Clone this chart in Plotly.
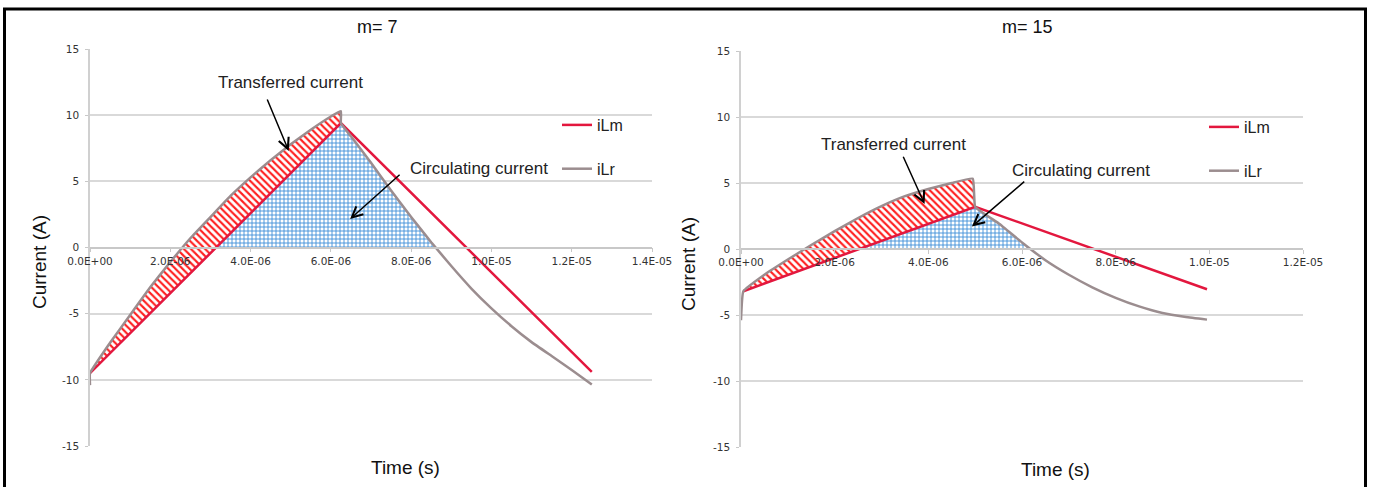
import numpy as np
import plotly.graph_objects as go

W, H = 1373, 487

# ---------------- data (times in microseconds, currents in A) ----------------
# m = 7
t_ilm_7 = [0.0, 6.25, 12.5]
ilm_7 = [-9.5, 9.4, -9.4]
t_ilr_7 = [0.0, 0.0, 0.5, 1.0, 1.5, 2.0, 2.5, 3.0, 3.5, 4.0, 4.5, 5.0, 5.5, 6.0, 6.25,
           6.25, 6.5, 7.0, 7.5, 8.0, 8.5, 9.0, 9.5, 10.0, 10.5, 11.0, 11.5, 12.0, 12.5]
ilr_7 = [-10.4, -9.5, -7.2, -5.1, -3.0, -1.1, 0.7, 2.3, 3.9, 5.3, 6.6, 7.8, 8.9, 9.9, 10.3,
         9.4, 8.4, 6.4, 4.3, 2.3, 0.4, -1.4, -3.1, -4.6, -5.95, -7.15, -8.2, -9.25, -10.35]

# m = 15
t_ilm_15 = [0.05, 5.0, 9.95]
ilm_15 = [-3.2, 3.2, -3.05]
t_ilr_15 = [0.0, 0.05, 0.5, 1.0, 1.5, 2.0, 2.5, 3.0, 3.5, 4.0, 4.5, 4.95,
            5.0, 5.5, 6.0, 6.5, 7.0, 7.5, 8.0, 8.5, 9.0, 9.5, 9.95]
ilr_15 = [-5.4, -3.2, -1.95, -0.8, 0.3, 1.35, 2.35, 3.25, 4.0, 4.55, 5.0, 5.33,
          3.2, 1.95, 0.5, -0.85, -1.95, -2.9, -3.7, -4.35, -4.85, -5.15, -5.35]

# axes
yticks = [15, 10, 5, 0, -5, -10, -15]
ytick_labels = ["15", "10", "5", "0", "-5", "-10", "-15"]
xticks_7 = [0, 2e-6, 4e-6, 6e-6, 8e-6, 1e-5, 1.2e-5, 1.4e-5]
xtick_labels_7 = ["0.0E+00", "2.0E-06", "4.0E-06", "6.0E-06", "8.0E-06", "1.0E-05", "1.2E-05", "1.4E-05"]
xticks_15 = [0, 2e-6, 4e-6, 6e-6, 8e-6, 1e-5, 1.2e-5]
xtick_labels_15 = ["0.0E+00", "2.0E-06", "4.0E-06", "6.0E-06", "8.0E-06", "1.0E-05", "1.2E-05"]

titles = ["m= 7", "m= 15"]
series_names = ["iLm", "iLr"]

RED = "#e3173e"
GRAY = "#9b8d8f"
US = 1e-6


def regions(t_lm, lm, t_lr, lr):
    t_lm = np.array(t_lm) * US
    lm = np.array(lm)
    t_lr = np.array(t_lr) * US
    lr = np.array(lr)
    ip = int(np.argmax(lr))
    # transferred: between rising iLr and rising iLm
    tx = list(t_lr[1:ip + 1]) + [t_lm[1], t_lm[0]]
    ty = list(lr[1:ip + 1]) + [lm[1], lm[0]]
    # circulating: above zero, under iLm rising and iLr falling
    t0 = np.interp(0.0, [lm[0], lm[1]], [t_lm[0], t_lm[1]])
    td = t_lr[ip + 1:]
    yd = lr[ip + 1:]
    t1 = np.interp(0.0, yd[::-1], td[::-1])
    pos = yd > 0
    cx = [t0, t_lm[1]] + list(td[pos]) + [t1, t0]
    cy = [0.0, lm[1]] + list(yd[pos]) + [0.0, 0.0]
    return (tx, ty), (cx, cy)


fig = go.Figure()

panels = [
    (t_ilm_7, ilm_7, t_ilr_7, ilr_7, "x", "y", "legend"),
    (t_ilm_15, ilm_15, t_ilr_15, ilr_15, "x2", "y2", "legend2"),
]
for t_lm, lm, t_lr, lr, xa, ya, lg in panels:
    (tx, ty), (cx, cy) = regions(t_lm, lm, t_lr, lr)
    fig.add_trace(go.Scatter(
        x=cx, y=cy, xaxis=xa, yaxis=ya, mode="lines", line=dict(width=0),
        fill="toself", fillcolor="rgba(255,255,255,0)",
        fillpattern=dict(shape="+", fgcolor="#3d8fd8", bgcolor="white", size=4, solidity=0.4),
        showlegend=False, hoverinfo="skip"))
    fig.add_trace(go.Scatter(
        x=tx, y=ty, xaxis=xa, yaxis=ya, mode="lines", line=dict(width=0),
        fill="toself", fillcolor="rgba(255,255,255,0)",
        fillpattern=dict(shape="\\", fgcolor="#ff1f1f", bgcolor="white", size=5, solidity=0.42),
        showlegend=False, hoverinfo="skip"))
    fig.add_trace(go.Scatter(
        x=np.array(t_lm) * US, y=lm, xaxis=xa, yaxis=ya, mode="lines",
        line=dict(color=RED, width=2.5), name=series_names[0], legend=lg,
        legendgroup=lg + "a"))
    fig.add_trace(go.Scatter(
        x=np.array(t_lr) * US, y=lr, xaxis=xa, yaxis=ya, mode="lines",
        line=dict(color=GRAY, width=2.5, shape="spline", smoothing=0.3), name=series_names[1],
        legend=lg, legendgroup=lg + "b"))


def px_x(p):
    return p / W


def px_y(p):
    return 1 - p / H


tickfont = dict(family="DejaVu Sans", size=10.5, color="#333333")
common_y = dict(range=[-15, 15], tickvals=yticks, ticktext=ytick_labels, showgrid=True,
                gridcolor="#d9d9d9", gridwidth=1.5, zeroline=False, showline=True,
                linecolor="#d0d0d0", linewidth=1.5, ticks="outside", ticklen=3,
                tickcolor="#c8c8c8", tickfont=tickfont, ticklabelstandoff=4, fixedrange=True,
                automargin=False)
common_x = dict(showgrid=False, zeroline=False, showline=True, linecolor="#c8c8c8",
                linewidth=1.5, ticks="outside", ticklen=4, tickcolor="#c8c8c8",
                tickfont=tickfont, anchor="free", fixedrange=True, automargin=False)

yd1 = [px_y(446), px_y(49)]
yd2 = [px_y(447), px_y(51)]
fig.update_layout(
    template="none",
    width=W, height=H, margin=dict(l=0, r=0, t=0, b=0, pad=0, autoexpand=False),
    paper_bgcolor="white", plot_bgcolor="white",
    xaxis=dict(domain=[px_x(90), px_x(652)], range=[0, 1.4e-5], tickvals=xticks_7,
               ticktext=xtick_labels_7, position=(yd1[0] + yd1[1]) / 2, **common_x),
    yaxis=dict(domain=yd1, anchor="x", **common_y),
    xaxis2=dict(domain=[px_x(741), px_x(1303)], range=[0, 1.2e-5], tickvals=xticks_15,
                ticktext=xtick_labels_15, position=(yd2[0] + yd2[1]) / 2, **common_x),
    yaxis2=dict(domain=yd2, anchor="x2", **common_y),
    legend=dict(x=px_x(557), y=px_y(108), xanchor="left", yanchor="top",
                bgcolor="rgba(0,0,0,0)", font=dict(family="Liberation Sans", size=16, color="#222"),
                tracegroupgap=20, itemwidth=30),
    legend2=dict(x=px_x(1204), y=px_y(110), xanchor="left", yanchor="top",
                 bgcolor="rgba(0,0,0,0)", font=dict(family="Liberation Sans", size=16, color="#222"),
                 tracegroupgap=20, itemwidth=30),
    showlegend=True,
)

ann = []
title_font = dict(family="Liberation Sans", size=18, color="#111")
label_font = dict(family="Liberation Sans", size=17, color="#222")
# titles
ann.append(dict(text=titles[0], x=px_x(378), y=px_y(27), xref="paper", yref="paper",
                showarrow=False, font=title_font, xanchor="center", yanchor="middle"))
ann.append(dict(text=titles[1], x=px_x(1027), y=px_y(27), xref="paper", yref="paper",
                showarrow=False, font=title_font, xanchor="center", yanchor="middle"))
# axis titles
for xc, yc in [(39, 262), (688, 264)]:
    ann.append(dict(text="Current (A)", x=px_x(xc), y=px_y(yc), xref="paper", yref="paper",
                    showarrow=False, textangle=-90, font=dict(family="Liberation Sans", size=19, color="#111"),
                    xanchor="center", yanchor="middle"))
for xc, yc in [(405, 467), (1055, 469)]:
    ann.append(dict(text="Time (s)", x=px_x(xc), y=px_y(yc), xref="paper", yref="paper",
                    showarrow=False, font=dict(family="Liberation Sans", size=19, color="#111"),
                    xanchor="center", yanchor="middle"))

# callouts: (text, text_x, text_y, head_x, head_y, tail_x, tail_y, axis suffix)
callouts = [
    ("Transferred current", 5.0, 12.45, 4.95, 7.3, 4.4, 11.3, ""),
    ("Circulating current", 9.7, 6.0, 6.48, 2.15, 7.75, 5.6, ""),
    ("Transferred current", 3.25, 7.95, 3.92, 3.4, 3.45, 7.1, "2"),
    ("Circulating current", 7.25, 5.98, 4.93, 1.7, 6.08, 5.2, "2"),
]
for txt, tx, ty, hx, hy, ax_, ay_, s in callouts:
    ann.append(dict(text=txt, x=tx * US, y=ty, xref="x" + s, yref="y" + s, showarrow=False,
                    font=label_font, xanchor="center", yanchor="middle"))
    ann.append(dict(text="", x=hx * US, y=hy, ax=ax_ * US, ay=ay_, xref="x" + s, yref="y" + s,
                    axref="x" + s, ayref="y" + s, showarrow=True, arrowhead=5, arrowsize=1.4,
                    arrowwidth=1.5, arrowcolor="black", standoff=0, startstandoff=0))
fig.update_layout(annotations=ann)

# outer frame
fig.add_shape(type="rect", xref="paper", yref="paper", x0=px_x(4.5), x1=px_x(1365.5),
              y0=-0.1, y1=px_y(9), line=dict(color="black", width=3), fillcolor="rgba(0,0,0,0)",
              layer="above")

fig.write_html("out.html", config={"displayModeBar": False},
               post_script="document.body.style.margin='0';document.body.style.padding='0';")
